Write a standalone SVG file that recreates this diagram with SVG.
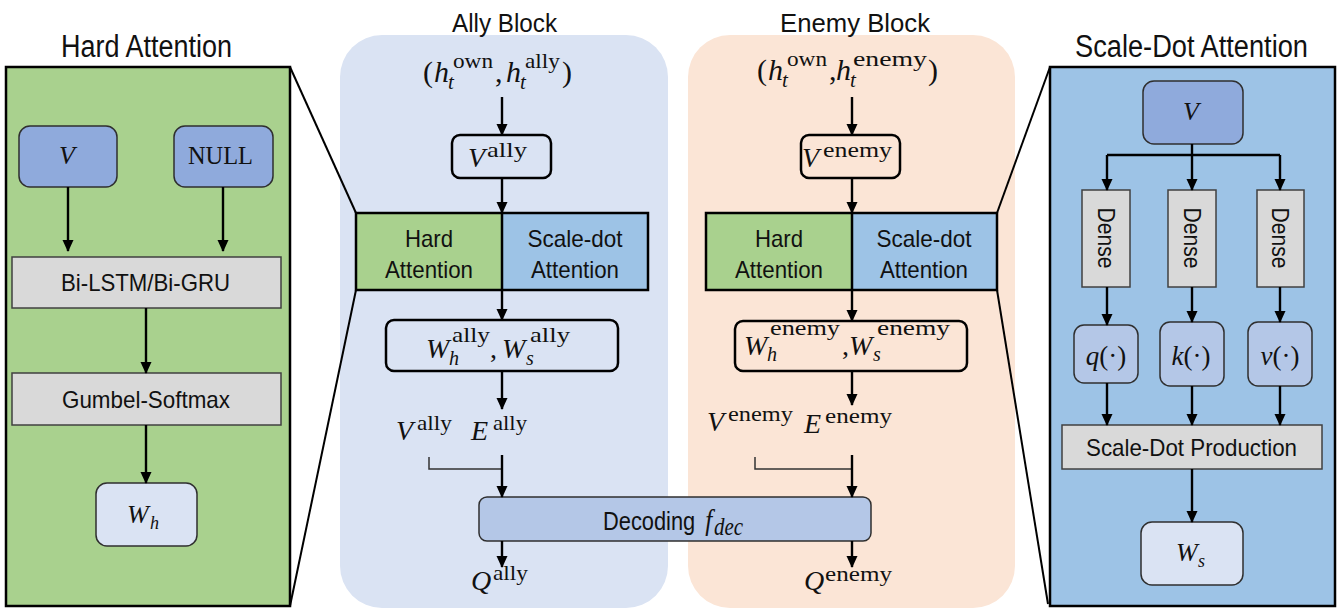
<svg xmlns="http://www.w3.org/2000/svg" width="1343" height="612" viewBox="0 0 1343 612">
  <defs>
    <marker id="arrow" markerUnits="userSpaceOnUse" markerWidth="12" markerHeight="12" viewBox="0 0 12 12" refX="11" refY="6" orient="auto">
      <path d="M0,0.5 L12,6 L0,11.5 z" fill="#000"/>
    </marker>
    <style>
      .sans { font-family: "Liberation Sans", Arial, sans-serif; fill: #111; }
      .title { font-size: 31px; }
      .btitle { font-size: 26px; }
      .lbl { font-size: 24px; }
      .m { font-family: "Liberation Serif", "Times New Roman", serif; font-style: italic; fill: #111; }
      .u { font-family: "Liberation Serif", "Times New Roman", serif; font-style: normal; fill: #111; }
      .conn { stroke: #000; stroke-width: 2.4; fill: none; }
      .arr { marker-end: url(#arrow); }
      .thin { stroke: #333; stroke-width: 1.5; fill: none; }
      .zoom { stroke: #000; stroke-width: 2; fill: none; }
      .gray { fill: #d9d9d9; stroke: #404040; stroke-width: 1.5; }
      .vbox { fill: #8faadc; stroke: #2f2f2f; stroke-width: 1.5; }
      .qbox { fill: #b4c7e7; stroke: #2f2f2f; stroke-width: 1.5; }
      .wbox { fill: #dae3f3; stroke: #2f2f2f; stroke-width: 1.5; }
      .obox { fill: none; stroke: #000; stroke-width: 2.5; }
    </style>
  </defs>

  <rect width="1343" height="612" fill="#fff"/>

  <!-- block backgrounds -->
  <g id="ally-block">
    <rect x="340" y="35" width="328" height="573" rx="42" fill="#dae3f3"/>
    <text class="sans btitle" x="452" y="32" textLength="105" lengthAdjust="spacingAndGlyphs">Ally Block</text>
  </g>
  <g id="enemy-block">
    <rect x="688" y="35" width="327" height="573" rx="42" fill="#fbe5d6"/>
    <text class="sans btitle" x="780" y="32" textLength="150" lengthAdjust="spacingAndGlyphs">Enemy Block</text>
  </g>

  <!-- Hard Attention detail panel -->
  <g id="hard-attention-panel">
    <text class="sans title" x="61" y="57" textLength="171" lengthAdjust="spacingAndGlyphs">Hard Attention</text>
    <rect x="6" y="67" width="284" height="539" fill="#a9d18e" stroke="#000" stroke-width="2.5"/>
  </g>
  <g id="ha-v">
    <rect class="vbox" x="19" y="126" width="98" height="61" rx="11"/>
    <text class="m" x="67" y="164" font-size="26" text-anchor="middle">V</text>
  </g>
  <g id="ha-null">
    <rect class="vbox" x="174" y="126" width="99" height="61" rx="11"/>
    <text class="u" x="188" y="164" font-size="25" textLength="65" lengthAdjust="spacingAndGlyphs">NULL</text>
  </g>
  <g id="ha-rnn">
    <rect class="gray" x="12" y="257" width="269" height="51"/>
    <text class="sans lbl" x="61" y="291" textLength="169" lengthAdjust="spacingAndGlyphs">Bi-LSTM/Bi-GRU</text>
  </g>
  <g id="ha-gumbel">
    <rect class="gray" x="12" y="373" width="269" height="52"/>
    <text class="sans lbl" x="62" y="408" textLength="168" lengthAdjust="spacingAndGlyphs">Gumbel-Softmax</text>
  </g>
  <g id="ha-wh">
    <rect class="wbox" x="96" y="483" width="101" height="63" rx="11"/>
    <text class="m" x="127" y="523" font-size="26">W</text>
    <text class="m" x="150" y="529" font-size="18">h</text>
  </g>

  <!-- Scale-Dot Attention detail panel -->
  <g id="scale-dot-panel">
    <text class="sans title" x="1075" y="57" textLength="233" lengthAdjust="spacingAndGlyphs">Scale-Dot Attention</text>
    <rect x="1050" y="67" width="285" height="539" fill="#9dc3e6" stroke="#000" stroke-width="2.5"/>
  </g>
  <g id="sd-v">
    <rect class="vbox" x="1143" y="81" width="100" height="63" rx="11"/>
    <text class="m" x="1191" y="120" font-size="26" text-anchor="middle">V</text>
  </g>
  <g id="sd-dense-q">
    <rect class="gray" x="1082" y="190" width="48" height="97"/>
    <text class="sans" font-size="23" transform="translate(1106,238) rotate(90)" text-anchor="middle" dominant-baseline="central" textLength="61" lengthAdjust="spacingAndGlyphs">Dense</text>
  </g>
  <g id="sd-dense-k">
    <rect class="gray" x="1168" y="190" width="48" height="97"/>
    <text class="sans" font-size="23" transform="translate(1192,238) rotate(90)" text-anchor="middle" dominant-baseline="central" textLength="61" lengthAdjust="spacingAndGlyphs">Dense</text>
  </g>
  <g id="sd-dense-v">
    <rect class="gray" x="1257" y="190" width="47" height="97"/>
    <text class="sans" font-size="23" transform="translate(1280,238) rotate(90)" text-anchor="middle" dominant-baseline="central" textLength="61" lengthAdjust="spacingAndGlyphs">Dense</text>
  </g>
  <g id="sd-q">
    <rect class="qbox" x="1074" y="325" width="64" height="58" rx="10"/>
    <text class="m" x="1106" y="365" font-size="27" text-anchor="middle">q<tspan class="u">(·)</tspan></text>
  </g>
  <g id="sd-k">
    <rect class="qbox" x="1160" y="322" width="64" height="64" rx="10"/>
    <text class="m" x="1191" y="365" font-size="27" text-anchor="middle">k<tspan class="u">(·)</tspan></text>
  </g>
  <g id="sd-vfn">
    <rect class="qbox" x="1248" y="322" width="64" height="64" rx="10"/>
    <text class="m" x="1280" y="365" font-size="27" text-anchor="middle">v<tspan class="u">(·)</tspan></text>
  </g>
  <g id="sd-product">
    <rect class="gray" x="1062" y="425" width="260" height="44"/>
    <text class="sans" font-size="24" x="1086" y="456" textLength="211" lengthAdjust="spacingAndGlyphs">Scale-Dot Production</text>
  </g>
  <g id="sd-ws">
    <rect class="wbox" x="1141" y="522" width="102" height="63" rx="11"/>
    <text class="m" x="1176" y="561" font-size="26">W</text>
    <text class="m" x="1198" y="567" font-size="18">s</text>
  </g>

  <!-- lines tying the detail panels to the attention boxes -->
  <g id="zoom-lines">
    <path class="zoom" d="M290,67 L356,213"/>
    <path class="zoom" d="M290,606 L356,290"/>
    <path class="zoom" d="M1050,67 L997,213"/>
    <path class="zoom" d="M1048,604 L997,290"/>
  </g>

  <!-- ally block contents -->
  <g id="ally-input">
    <text class="u" x="423" y="82" font-size="30">(</text>
    <text class="m" x="434" y="82" font-size="30">h</text>
    <text class="u" x="453" y="68" font-size="21" textLength="40" lengthAdjust="spacingAndGlyphs">own</text>
    <text class="m" x="448" y="89" font-size="21">t</text>
    <text class="u" x="495" y="82" font-size="30">,</text>
    <text class="m" x="506" y="82" font-size="30">h</text>
    <text class="u" x="525" y="68" font-size="21" textLength="35" lengthAdjust="spacingAndGlyphs">ally</text>
    <text class="m" x="520" y="89" font-size="21">t</text>
    <text class="u" x="562" y="82" font-size="30">)</text>
  </g>
  <g id="ally-v">
    <rect class="obox" x="452" y="135" width="99" height="43" rx="8"/>
    <text class="m" x="468" y="167" font-size="28">V</text>
    <text class="u" x="487" y="157" font-size="21" textLength="40" lengthAdjust="spacingAndGlyphs">ally</text>
  </g>
  <g id="ally-attention">
    <rect x="356" y="213" width="146" height="77" fill="#a9d18e"/>
    <rect x="502" y="213" width="146" height="77" fill="#9dc3e6"/>
    <path class="obox" d="M356,213 H648 V290 H356 Z M502,213 V290"/>
    <text class="sans" font-size="24" x="429" y="247" text-anchor="middle" textLength="48" lengthAdjust="spacingAndGlyphs">Hard</text>
    <text class="sans" font-size="24" x="429" y="278" text-anchor="middle" textLength="88" lengthAdjust="spacingAndGlyphs">Attention</text>
    <text class="sans" font-size="24" x="575" y="247" text-anchor="middle" textLength="95" lengthAdjust="spacingAndGlyphs">Scale-dot</text>
    <text class="sans" font-size="24" x="575" y="278" text-anchor="middle" textLength="88" lengthAdjust="spacingAndGlyphs">Attention</text>
  </g>
  <g id="ally-weights">
    <rect class="obox" x="386" y="320" width="232" height="51" rx="8"/>
    <text class="m" x="426" y="358" font-size="28">W</text>
    <text class="u" x="452" y="342" font-size="21" textLength="38" lengthAdjust="spacingAndGlyphs">ally</text>
    <text class="m" x="449" y="365" font-size="20">h</text>
    <text class="u" x="490" y="358" font-size="28">,</text>
    <text class="m" x="502" y="358" font-size="28">W</text>
    <text class="u" x="530" y="342" font-size="21" textLength="40" lengthAdjust="spacingAndGlyphs">ally</text>
    <text class="m" x="526" y="365" font-size="20">s</text>
  </g>
  <g id="ally-ve">
    <text class="m" x="396" y="440" font-size="28">V</text>
    <text class="u" x="417" y="430" font-size="21" textLength="35" lengthAdjust="spacingAndGlyphs">ally</text>
    <text class="m" x="471" y="440" font-size="28">E</text>
    <text class="u" x="493" y="430" font-size="21" textLength="34" lengthAdjust="spacingAndGlyphs">ally</text>
  </g>
  <g id="ally-q">
    <text class="m" x="471" y="590" font-size="28">Q</text>
    <text class="u" x="493" y="580" font-size="21" textLength="35" lengthAdjust="spacingAndGlyphs">ally</text>
  </g>

  <!-- enemy block contents -->
  <g id="enemy-input">
    <text class="u" x="757" y="80" font-size="30">(</text>
    <text class="m" x="768" y="80" font-size="30">h</text>
    <text class="u" x="787" y="66" font-size="21" textLength="40" lengthAdjust="spacingAndGlyphs">own</text>
    <text class="m" x="782" y="87" font-size="21">t</text>
    <text class="u" x="829" y="80" font-size="30">,</text>
    <text class="m" x="836" y="80" font-size="30">h</text>
    <text class="u" x="853" y="66" font-size="21" textLength="74" lengthAdjust="spacingAndGlyphs">enemy</text>
    <text class="m" x="850" y="87" font-size="21">t</text>
    <text class="u" x="928" y="80" font-size="30">)</text>
  </g>
  <g id="enemy-v">
    <rect class="obox" x="801" y="135" width="99" height="43" rx="8"/>
    <text class="m" x="802" y="167" font-size="28">V</text>
    <text class="u" x="823" y="157" font-size="21" textLength="69" lengthAdjust="spacingAndGlyphs">enemy</text>
  </g>
  <g id="enemy-attention">
    <rect x="706" y="213" width="146" height="77" fill="#a9d18e"/>
    <rect x="852" y="213" width="145" height="77" fill="#9dc3e6"/>
    <path class="obox" d="M706,213 H997 V290 H706 Z M852,213 V290"/>
    <text class="sans" font-size="24" x="779" y="247" text-anchor="middle" textLength="48" lengthAdjust="spacingAndGlyphs">Hard</text>
    <text class="sans" font-size="24" x="779" y="278" text-anchor="middle" textLength="88" lengthAdjust="spacingAndGlyphs">Attention</text>
    <text class="sans" font-size="24" x="924" y="247" text-anchor="middle" textLength="95" lengthAdjust="spacingAndGlyphs">Scale-dot</text>
    <text class="sans" font-size="24" x="924" y="278" text-anchor="middle" textLength="88" lengthAdjust="spacingAndGlyphs">Attention</text>
  </g>
  <g id="enemy-weights">
    <rect class="obox" x="735" y="321" width="232" height="50" rx="8"/>
    <text class="m" x="744" y="355" font-size="28">W</text>
    <text class="u" x="770" y="335" font-size="21" textLength="70" lengthAdjust="spacingAndGlyphs">enemy</text>
    <text class="m" x="767" y="361" font-size="20">h</text>
    <text class="u" x="842" y="355" font-size="28">,</text>
    <text class="m" x="849" y="355" font-size="28">W</text>
    <text class="u" x="877" y="335" font-size="21" textLength="73" lengthAdjust="spacingAndGlyphs">enemy</text>
    <text class="m" x="873" y="361" font-size="20">s</text>
  </g>
  <g id="enemy-ve">
    <text class="m" x="707" y="431" font-size="28">V</text>
    <text class="u" x="728" y="421" font-size="21" textLength="65" lengthAdjust="spacingAndGlyphs">enemy</text>
    <text class="m" x="804" y="433" font-size="28">E</text>
    <text class="u" x="825" y="423" font-size="21" textLength="67" lengthAdjust="spacingAndGlyphs">enemy</text>
  </g>
  <g id="enemy-q">
    <text class="m" x="804" y="590" font-size="28">Q</text>
    <text class="u" x="825" y="581" font-size="21" textLength="67" lengthAdjust="spacingAndGlyphs">enemy</text>
  </g>

  <!-- shared decoder -->
  <g id="decoding">
    <rect class="qbox" x="479" y="497" width="392" height="44" rx="8"/>
    <text class="sans" font-size="26" transform="translate(603,530) scale(0.84,1)">Decoding<tspan class="m" dx="12" font-size="30">f</tspan><tspan class="m" dx="2" dy="5" font-size="25">dec</tspan></text>
  </g>

  <!-- connectors -->
  <g id="connectors">
    <!-- hard attention panel -->
    <path class="conn arr" d="M68,187 V251"/>
    <path class="conn arr" d="M223,187 V251"/>
    <path class="conn arr" d="M146,308 V373"/>
    <path class="conn arr" d="M146,425 V483"/>
    <!-- scale-dot panel -->
    <path class="conn arr" d="M1192,144 V190"/>
    <path class="conn" d="M1107,155 H1280"/>
    <path class="conn arr" d="M1107,155 V190"/>
    <path class="conn arr" d="M1280,155 V190"/>
    <path class="conn arr" d="M1107,287 V325"/>
    <path class="conn arr" d="M1192,287 V322"/>
    <path class="conn arr" d="M1280,287 V322"/>
    <path class="conn arr" d="M1107,383 V425"/>
    <path class="conn arr" d="M1192,386 V425"/>
    <path class="conn arr" d="M1280,386 V425"/>
    <path class="conn arr" d="M1192,469 V522"/>
    <!-- ally block -->
    <path class="conn arr" d="M502,97 V135"/>
    <path class="conn arr" d="M502,178 V213"/>
    <path class="conn arr" d="M502,290 V320"/>
    <path class="conn arr" d="M502,371 V409"/>
    <path class="thin" d="M429,457 V469 H502"/>
    <path class="conn arr" d="M502,455 V497"/>
    <path class="conn arr" d="M502,541 V567"/>
    <!-- enemy block -->
    <path class="conn arr" d="M852,97 V135"/>
    <path class="conn arr" d="M852,178 V213"/>
    <path class="conn arr" d="M852,290 V321"/>
    <path class="conn arr" d="M852,371 V405"/>
    <path class="thin" d="M755,457 V469 H852"/>
    <path class="conn arr" d="M852,455 V497"/>
    <path class="conn arr" d="M852,541 V567"/>
  </g>
</svg>
